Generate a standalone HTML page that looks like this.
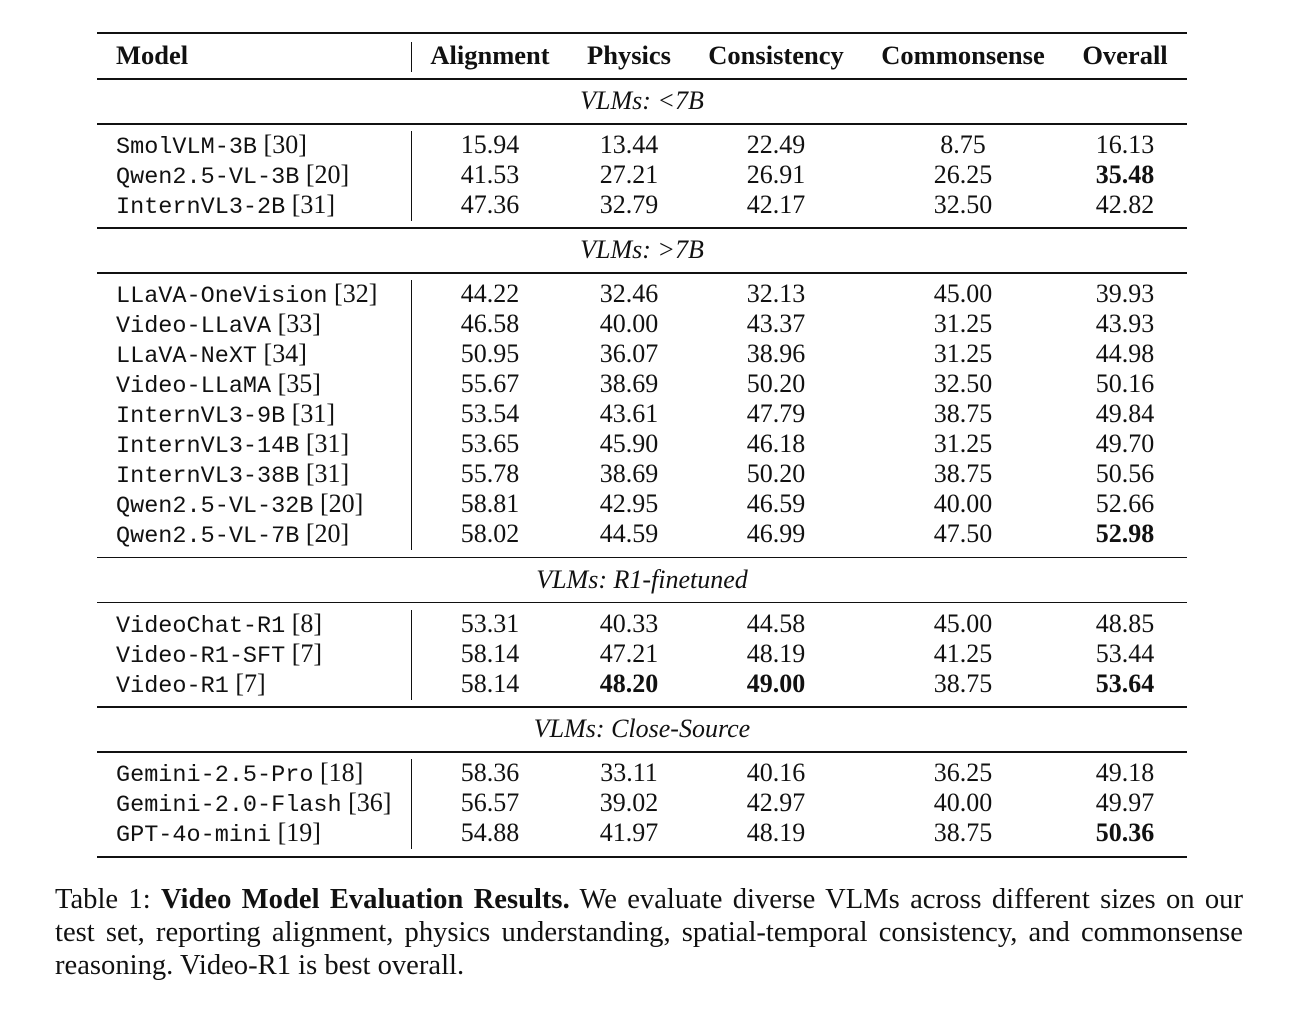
<!DOCTYPE html>
<html><head><meta charset="utf-8"><style>
body{margin:0;width:1300px;height:1013px;background:#fff;position:relative;overflow:hidden;font-family:"Liberation Serif",serif;color:#111}
.t{position:absolute;font-size:26px;line-height:30px;white-space:nowrap}
.c{transform:translateX(-50%)}
.m{font-family:"Liberation Mono",monospace;font-size:23.5px}
.h{font-weight:bold;font-size:26.5px}
.rule{position:absolute;left:97px;width:1090px;background:#111}
.vl{position:absolute;left:411px;width:1px;background:#111}
.cap{position:absolute;left:55px;width:1188px;font-size:28.6px;line-height:33px;text-align:justify;text-align-last:justify;white-space:nowrap}
b{font-weight:bold}
</style></head><body>
<div id="tbl"></div>
<div class="cap" style="top:883px">Table 1: <b>Video Model Evaluation Results.</b> We evaluate diverse VLMs across different sizes on our</div>
<div class="cap" style="top:916px">test set, reporting alignment, physics understanding, spatial-temporal consistency, and commonsense</div>
<div class="cap" style="top:949px;text-align-last:left">reasoning. Video-R1 is best overall.</div>
<script>
const cols=[490,629,776,963,1125];
const headers=["Alignment","Physics","Consistency","Commonsense","Overall"];
const groups=[
 {title:"VLMs: <7B",rows:[
  ["SmolVLM-3B","[30]","15.94","13.44","22.49","8.75","16.13",[]],
  ["Qwen2.5-VL-3B","[20]","41.53","27.21","26.91","26.25","35.48",[4]],
  ["InternVL3-2B","[31]","47.36","32.79","42.17","32.50","42.82",[]]]},
 {title:"VLMs: >7B",rows:[
  ["LLaVA-OneVision","[32]","44.22","32.46","32.13","45.00","39.93",[]],
  ["Video-LLaVA","[33]","46.58","40.00","43.37","31.25","43.93",[]],
  ["LLaVA-NeXT","[34]","50.95","36.07","38.96","31.25","44.98",[]],
  ["Video-LLaMA","[35]","55.67","38.69","50.20","32.50","50.16",[]],
  ["InternVL3-9B","[31]","53.54","43.61","47.79","38.75","49.84",[]],
  ["InternVL3-14B","[31]","53.65","45.90","46.18","31.25","49.70",[]],
  ["InternVL3-38B","[31]","55.78","38.69","50.20","38.75","50.56",[]],
  ["Qwen2.5-VL-32B","[20]","58.81","42.95","46.59","40.00","52.66",[]],
  ["Qwen2.5-VL-7B","[20]","58.02","44.59","46.99","47.50","52.98",[4]]]},
 {title:"VLMs: R1-finetuned",rows:[
  ["VideoChat-R1","[8]","53.31","40.33","44.58","45.00","48.85",[]],
  ["Video-R1-SFT","[7]","58.14","47.21","48.19","41.25","53.44",[]],
  ["Video-R1","[7]","58.14","48.20","49.00","38.75","53.64",[1,2,4]]]},
 {title:"VLMs: Close-Source",rows:[
  ["Gemini-2.5-Pro","[18]","58.36","33.11","40.16","36.25","49.18",[]],
  ["Gemini-2.0-Flash","[36]","56.57","39.02","42.97","40.00","49.97",[]],
  ["GPT-4o-mini","[19]","54.88","41.97","48.19","38.75","50.36",[4]]]}
];
const T=document.getElementById('tbl');
function add(cls,style,html){const d=document.createElement('div');d.className=cls;d.style.cssText=style;d.innerHTML=html||'';T.appendChild(d);return d;}
let e;
e=add('rule','top:32px;height:2px');


e=add('t h','left:116px;top:40px','Model');


e=add('vl','top:42px;height:30px');


headers.forEach((h,i)=>{
 const d=add('t h c','left:'+cols[i]+'px;top:40px',h);
 
 
});
let y=78;
groups.forEach((g,gi)=>{
 let r=add('rule','top:'+y+'px;height:1.5px');
 
 
 const tt=add('t c','left:642px;top:'+(y+8)+'px;font-style:italic',g.title.replace('<','&lt;').replace('>','&gt;'));
 
 
 y+=45;
 r=add('rule','top:'+y+'px;height:1.5px');
 
 
 const v=add('vl','top:'+(y+8)+'px;height:'+(g.rows.length*30)+'px');
 
 
 g.rows.forEach((row,ri)=>{
  const top=y+7+ri*30;
  const n=add('t','left:116px;top:'+top+'px','<span class="m">'+row[0]+'</span> '+row[1]);
  
  
  for(let k=0;k<5;k++){
   const bold=row[7].includes(k);
   const c=add('t c','left:'+cols[k]+'px;top:'+top+'px'+(bold?';font-weight:bold':''),row[2+k]);
   
   
  }
 });
 y+=g.rows.length*30+14.4;
});
e=add('rule','top:'+(y+0.5)+'px;height:2px');


</script>
</body></html>
